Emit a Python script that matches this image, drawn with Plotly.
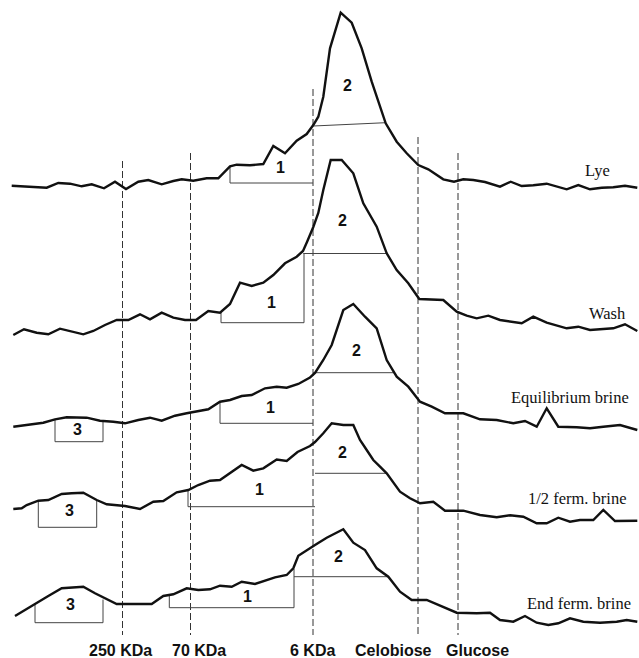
import plotly.graph_objects as go

# Elution profiles: x = elution position, y = detector depth (axis drawn downward)
lye_x = [11.7, 46.7, 58.3, 70, 81.7, 91.7, 104, 115, 126, 138.3, 148.3, 161.7, 173.3, 181.7, 193.3, 206.7, 218.3,
         230, 236.7, 250, 263.3, 273.3, 285, 296.7, 306.7, 313.3, 318.3, 323.3, 330, 340.7, 351.7, 361.7, 371.7,
         385.7, 396.7, 406.7, 418.3, 428.3, 443.3, 454, 463.3, 473.3, 485, 500, 510.7, 521.7, 533.3, 546.7, 566.7,
         578.3, 590, 601.7, 613.3, 625, 637.3]
lye_y = [185.7, 187.7, 183, 183.7, 186.3, 184.3, 188.3, 181.7, 189, 181.7, 180, 184.3, 181, 179.3, 180.7, 178.3, 178.3,
         166.3, 164.7, 165.3, 164, 146, 153.3, 140.7, 134, 125, 116.7, 96.7, 48.3, 12.7, 22.7, 48.3, 81.7,
         123.3, 141.7, 153.3, 165, 169.3, 179.3, 181.7, 179.3, 180, 182, 186.7, 181.7, 186, 185.3, 183.7, 189.3,
         185, 189.3, 187.7, 187.3, 185.7, 187.7]

wash_x = [13.3, 24, 36.7, 48.3, 60, 71.7, 83.3, 93.3, 105, 116.7, 128.3, 140, 150, 161.7, 173.3, 185, 196, 208.3,
          220, 230, 240, 251.7, 263.3, 273.3, 285, 296.7, 303, 307, 313.3, 318.3, 323.3, 330.7, 341.7, 353.3, 363.3,
          376.7, 386.7, 396.7, 408.3, 419.3, 443.3, 456.7, 466.7, 476.7, 488.3, 500, 521.7, 533.3, 546.7, 566.7,
          578.3, 590, 613.3, 625, 637.3]
wash_y = [335, 329.3, 332.7, 334.3, 328.7, 331.7, 334.3, 331, 325, 320, 320, 314.3, 319.3, 312.7, 317.7, 320, 320, 311,
          312.7, 304, 282.7, 286, 282.7, 275, 263.3, 256.7, 251, 242, 227, 213, 190, 160, 160, 173.3, 203.3,
          226.7, 253.3, 270, 283.3, 299, 300, 311.7, 315.7, 318.3, 315.7, 320, 323.3, 316.7, 322.7, 328.3,
          326.7, 330, 328.3, 324.3, 331]

eq_x = [13.3, 25, 35, 43.3, 55, 66.7, 86.7, 100, 113.3, 125, 138.3, 150, 161.7, 175, 186.7, 196.7, 208.3, 220, 230,
        241.7, 251.7, 265, 276.7, 286.7, 298.3, 310, 315, 323.3, 331.7, 343.3, 353.3, 365, 376.7, 386.7, 396.7,
        408.3, 420, 431.7, 445, 463.3, 480, 496.7, 513.3, 525, 536.7, 546.7, 558.3, 576.7, 590, 603.3, 620, 637.3]
eq_y = [426.7, 425, 423.3, 422.7, 419.3, 417.3, 417.7, 420.7, 421.7, 423.3, 420, 417.7, 420.7, 415.7, 413.3, 411.7,
        409.3, 401.7, 400, 396, 395, 388.3, 386.7, 387.7, 384, 377.5, 373, 360, 345, 310, 304, 316.7, 328.3, 360,
        376.7, 386.7, 401.7, 406.7, 413.3, 413.3, 419.3, 420, 423.3, 421, 426.7, 408.3, 426.7, 427.3, 428.3, 426.7,
        425, 430]

half_x = [13.3, 21.7, 26.7, 38.3, 48.3, 61.7, 71.7, 83.3, 96.7, 106.7, 125, 140, 153.3, 163.3, 176.7, 188.3, 198.3,
          210, 220, 231.7, 241.7, 253.3, 263.3, 276.7, 286.7, 297.5, 310, 315, 323.3, 331.7, 343.3, 353.3, 360,
          366.7, 373.3, 380, 386.7, 400, 410, 420, 433.3, 445, 463.3, 480, 496.7, 510, 523.3, 536.7, 546.7, 558.3,
          570, 580, 593.3, 603.3, 615, 637.3]
half_y = [509, 508.3, 505, 500.7, 500, 494, 493.3, 492.7, 500, 504.3, 506, 509, 501.7, 501, 492.3, 490, 485, 480.7,
          480, 471.7, 465, 470.7, 468.3, 459.5, 461, 452, 446, 442, 433.3, 423.3, 425, 425, 440, 450, 460, 466.7,
          473.3, 491.7, 498.3, 503.3, 501.7, 510.7, 510.7, 515, 517.3, 515.3, 516.7, 523.3, 523.3, 517.7, 521.7,
          520, 520, 510, 521, 520.7]

end_x = [15, 25, 35, 48.3, 61.7, 71.7, 83.3, 95, 106.7, 116.7, 125, 136.7, 151.7, 163.3, 173.3, 186.7, 198.3, 210,
         220, 231.7, 241.7, 255, 265, 275, 286.7, 293.3, 298.3, 308, 315, 326.7, 343.3, 353.3, 365, 376.7, 388.3,
         400, 411.7, 426.7, 443.3, 456.7, 476.7, 490, 500, 513.3, 525, 536.7, 548.3, 558.3, 570, 583.3, 600, 616.7,
         626.7, 637.3]
end_y = [616, 610, 603.3, 596, 588.3, 587.7, 586.7, 593.3, 599.3, 604, 604, 604, 604, 596, 594.3, 588.3, 590, 589.3,
         585.7, 586.7, 581.7, 584, 580.7, 577.3, 575, 568.3, 555.7, 549, 545, 537.7, 529.3, 542.7, 550, 568.3,
         576.7, 591.7, 600, 600, 606.7, 612.7, 613.3, 612.7, 620, 621.7, 616, 622.7, 625, 623.3, 618.3, 621.7,
         622.7, 621.7, 620, 621.7]

sample_names = ["Lye", "Wash", "Equilibrium brine", "1/2 ferm. brine", "End ferm. brine"]
sample_label_x = [597.5, 607.5, 570, 577.5, 579]
sample_label_y = [170, 313, 397, 498, 603]

# Molecular-weight standards (dashed reference lines)
standard_names = ["250 KDa", "70 KDa", "6 KDa", "Celobiose", "Glucose"]
standard_x = [122.5, 190.5, 313, 418, 458]
standard_top = [161, 153, 89, 137, 153]
standard_bottom = 635
standard_label_x = [120, 199, 312, 393, 477]
standard_label_y = 650

# Peak integration brackets (polylines, None separates pieces)
bracket_x = [230, 230, 313, None, 313.3, 385.7, None,
             221, 221, 304, 304, None, 303.3, 386.7, None,
             55, 55, 103, 103, None, 220, 220, 313, None, 313, 395, None,
             38.3, 38.3, 96.7, 96.7, None, 188, 188, 315, None, 315, 386.7, None,
             35, 35, 103, 103, None, 169.3, 169.3, 294, 294, None, 294, 388.3]
bracket_y = [166, 183, 183, None, 126, 122.7, None,
             312, 322.7, 322.7, 253.3, None, 253.5, 253.5, None,
             419.3, 441.7, 441.7, 420.5, None, 401.7, 423.3, 423.3, None, 372.7, 372.7, None,
             500.7, 527.3, 527.3, 500, None, 490, 506.7, 506.7, None, 473.3, 473.3, None,
             603.3, 622.7, 622.7, 599.5, None, 595, 607.7, 607.7, 569, None, 576.7, 576.7]

peak_ids = ["1", "2", "1", "2", "3", "1", "2", "3", "1", "2", "3", "1", "2"]
peak_label_x = [280, 347, 271, 342, 77.3, 270, 356, 69, 259, 342, 70, 247, 338]
peak_label_y = [167, 85, 302, 220, 429.5, 407, 350, 510, 489, 452, 604, 596, 556]

fig = go.Figure()

for sx, top in zip(standard_x, standard_top):
    fig.add_trace(go.Scatter(x=[sx, sx], y=[top, standard_bottom], mode="lines",
                             line=dict(color="#333", width=1, dash="7px,3px"),
                             hoverinfo="skip", showlegend=False))

fig.add_trace(go.Scatter(x=bracket_x, y=bracket_y, mode="lines",
                         line=dict(color="#444", width=1), hoverinfo="skip",
                         showlegend=False, connectgaps=False))

for xs, ys, name in [(lye_x, lye_y, sample_names[0]), (wash_x, wash_y, sample_names[1]),
                     (eq_x, eq_y, sample_names[2]), (half_x, half_y, sample_names[3]),
                     (end_x, end_y, sample_names[4])]:
    fig.add_trace(go.Scatter(x=xs, y=ys, mode="lines", name=name,
                             line=dict(color="#111", width=2.4), showlegend=False))

for name, lx, ly in zip(sample_names, sample_label_x, sample_label_y):
    fig.add_annotation(x=lx, y=ly, text=name, showarrow=False,
                       font=dict(family="Liberation Serif", size=16.5, color="#111"))

for name, lx in zip(standard_names, standard_label_x):
    fig.add_annotation(x=lx, y=standard_label_y, text=f"<b>{name}</b>", showarrow=False,
                       font=dict(family="Liberation Sans", size=16, color="#111"))

for pid, lx, ly in zip(peak_ids, peak_label_x, peak_label_y):
    fig.add_annotation(x=lx, y=ly, text=f"<b>{pid}</b>", showarrow=False,
                       font=dict(family="Liberation Sans", size=16, color="#111"))

fig.update_layout(
    width=639, height=658,
    margin=dict(l=0, r=0, t=0, b=0),
    paper_bgcolor="white", plot_bgcolor="white",
    xaxis=dict(range=[0, 639], visible=False, fixedrange=True),
    yaxis=dict(range=[658, 0], visible=False, fixedrange=True),
)

fig.write_html("out.html")
